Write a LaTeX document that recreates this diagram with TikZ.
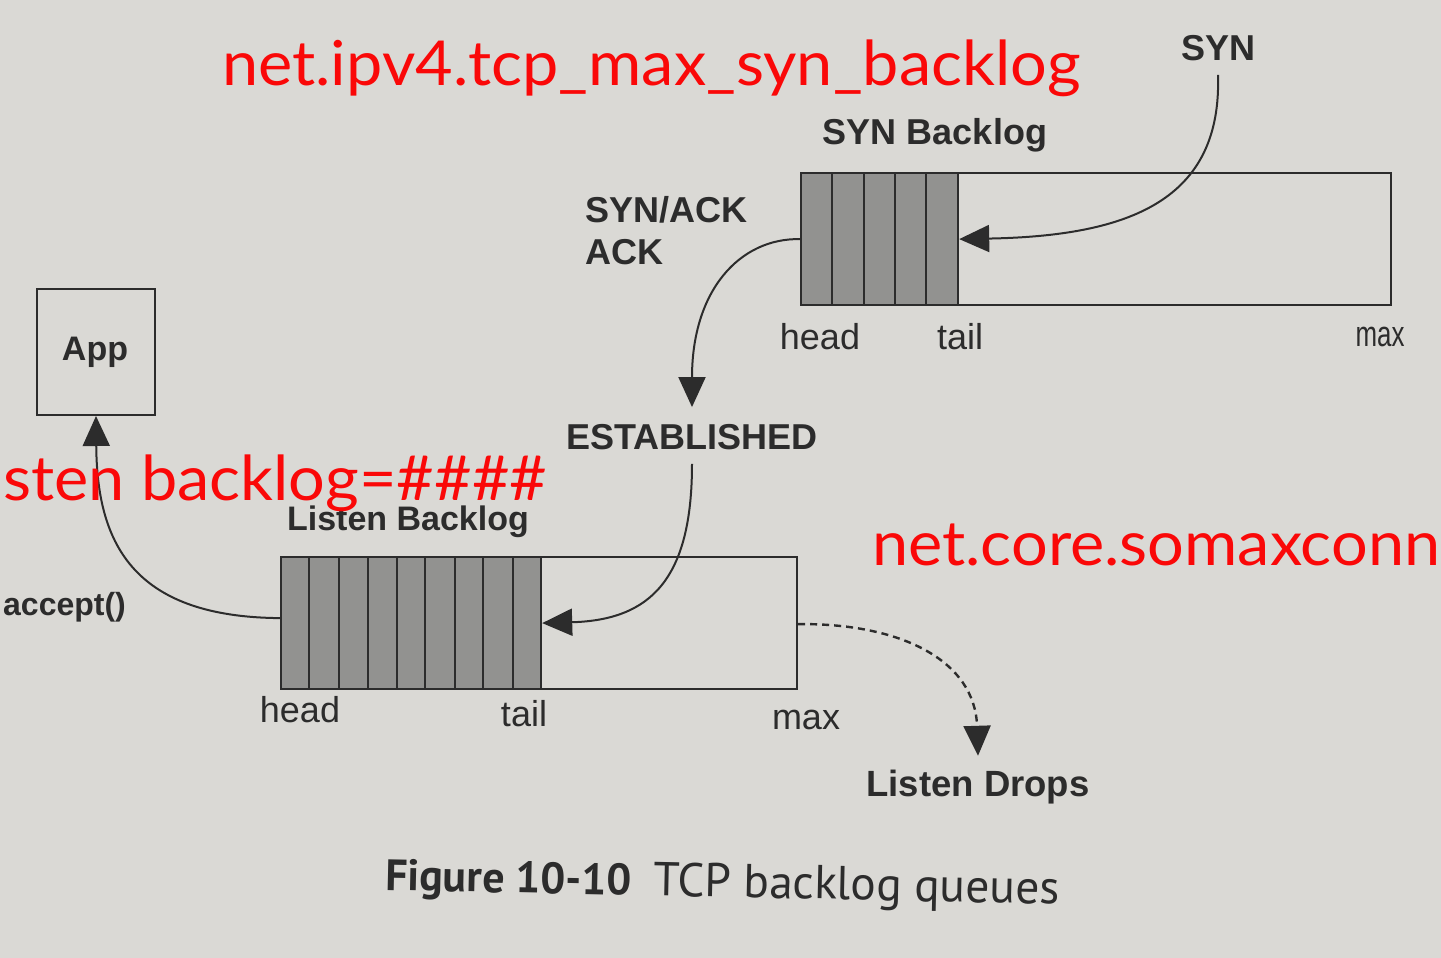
\documentclass[tikz,border=0pt]{standalone}
\usepackage{fontspec}
\setmainfont{Liberation Sans}
\newfontfamily\redf{Lato}
\newfontfamily\capf{PT Sans}
\usetikzlibrary{arrows.meta}
\definecolor{paper}{RGB}{218,217,213}
\definecolor{ink}{RGB}{44,44,44}
\definecolor{cell}{RGB}{146,146,144}
\definecolor{redtxt}{RGB}{250,8,8}
\tikzset{
  lbl/.style={text=ink, inner sep=0pt, font=\bfseries\fontsize{36}{40}\selectfont},
  rlbl/.style={text=ink, inner sep=0pt, font=\fontsize{36}{40}\selectfont},
  qbox/.style={draw=ink, line width=2.2pt, inner sep=0pt, anchor=north west},
  fillbox/.style={fill=cell, draw=ink, line width=2.2pt, inner sep=0pt, anchor=north west},
  cellline/.style={draw=ink, line width=2.2pt},
  arr/.style={draw=ink, line width=2pt, -{Triangle[length=30pt,width=27pt]}},
  redlbl/.style={text=redtxt, inner sep=0pt, anchor=base west, xscale=1.045, font=\redf\fontsize{62}{70}\selectfont}
}
\begin{document}
\begin{tikzpicture}[x=1pt,y=-1pt]
\fill[paper] (0,0) rectangle (1441,958);
\useasboundingbox (0,0) rectangle (1441,958);

% SYN backlog queue
\node[qbox, minimum width=590pt, minimum height=132pt] (synq) at (800,172) {};
\node[fillbox, minimum width=157pt, minimum height=132pt] (synfill) at (800,172) {};
\foreach \x in {832,864,895,926} \draw[cellline] (\x,172) -- (\x,304);
\node[lbl] (synbl) at (935,135) {SYN Backlog};
\node[lbl] (syn) at (1218,48) {SYN};
\node[lbl, anchor=west] (synack) at (585,210) {SYN/ACK};
\node[lbl, anchor=west] (ack) at (585,252) {ACK};
\node[rlbl] (shead) at (820,337) {head};
\node[rlbl] (stail) at (960,337) {tail};
\node[rlbl, xscale=0.72] (smax) at (1380,337) {max};

% ESTABLISHED
\node[lbl] (est) at (692,437) {ESTABLISHED};

% Listen backlog queue
\node[qbox, minimum width=516pt, minimum height=132pt] (lq) at (280,556) {};
\node[fillbox, minimum width=260pt, minimum height=132pt] (lfill) at (280,556) {};
\foreach \x in {309,339,368,397,425,455,483,513} \draw[cellline] (\x,556) -- (\x,688);
\node[lbl, font=\bfseries\fontsize{34}{40}\selectfont] (lbl) at (408,522) {Listen Backlog};
\node[rlbl] (lhead) at (300,710) {head};
\node[rlbl] (ltail) at (524,714) {tail};
\node[rlbl] (lmax) at (806,720) {max};

% App
\node[draw=ink, line width=2pt, minimum width=118pt, minimum height=126pt, inner sep=0pt, anchor=north west] (app) at (36,288) {};
\node[lbl, font=\bfseries\fontsize{34}{40}\selectfont] (apptxt) at (95,352) {App};
\node[lbl, font=\bfseries\fontsize{32}{40}\selectfont, anchor=west] (accept) at (3,607) {accept()};

% Listen drops
\node[lbl, font=\bfseries\fontsize{36.5}{40}\selectfont] (drops) at (978,787) {Listen Drops};

% connectors
\draw[arr] ([yshift=-14pt]syn.south) .. controls (1222,200) and (1130,236) .. (synfill.east);
\draw[arr] (synfill.west) .. controls (740,238) and (692,290) .. ([yshift=17pt]est.north);
\draw[arr] ([yshift=-14pt]est.south) .. controls (692,580) and (650,620) .. (lfill.east);
\draw[arr] ([yshift=5pt]lfill.west) .. controls (130,617) and (97,540) .. (app.south);
\draw[arr, line width=2.4pt, dash pattern=on 7pt off 5pt] ([yshift=-1pt]lq.east) .. controls (900,623) and (975,660) .. ([yshift=14pt]drops.north);

% caption
\node[text=ink, inner sep=0pt, anchor=base west, rotate=-1.2, font=\capf\fontsize{44}{50}\selectfont] (cap) at (385,890) {\textbf{Figure 10-10}\hspace{0.5em}{\fontsize{47.5}{50}\selectfont TCP backlog queues}};

% red overlay texts
\node[redlbl] (r1) at (222,85) {net.ipv4.tcp\_max\_syn\_backlog};
\node[redlbl] (r2) at (3,500) {sten backlog=\#\#\#\#};
\node[redlbl] (r3) at (872,565) {net.core.somaxconn};
\end{tikzpicture}
\end{document}
